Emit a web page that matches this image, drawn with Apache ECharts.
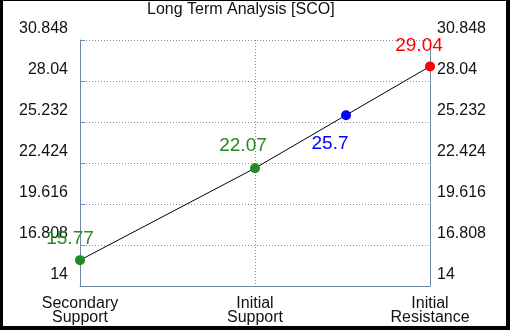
<!DOCTYPE html>
<html>
<head>
<meta charset="utf-8">
<script src="https://cdn.jsdelivr.net/npm/echarts@6/dist/echarts.min.js"></script>
<style>
	html, body { margin: 0; padding: 0; background: #000; width: 510px; height: 330px; overflow: hidden; }
	#chart { position: absolute; left: 3px; top: 1px; width: 503px; height: 325px; background: #fff; }
</style>
</head>
<body>
<div id="chart"></div>
<script>
var levelNames = ['Secondary\nSupport', 'Initial\nSupport', 'Initial\nResistance'];
var prices = [15.77, 22.07, 25.7, 29.04];
var priceSpots = [0, 1, 1.52, 2];
var yMin = 14, yMax = 30.848, yStep = 2.808;

var dotColors = ['#228b22', '#228b22', '#0000ff', '#ff0000'];
var labelShift = [[-10, -21], [-12, -22], [-16, 29], [-11, -21]];
var font = 'Liberation Sans, Arial, sans-serif';
var axisColor = '#7086aa';

window.onload = function() {
	var points = [];
	for (var i = 0; i < prices.length; i++) {
		points.push({
			value: [priceSpots[i], prices[i]],
			itemStyle: { color: dotColors[i] },
			label: { color: dotColors[i], offset: labelShift[i] }
		});
	}
	var fmt = function(v) { return String(parseFloat(v.toFixed(3))); };
	var myChart = echarts.init(document.getElementById('chart'));
	var option = {
		animation: false,
		title: {
			text: 'Long Term Analysis [SCO]',
			left: 144,
			top: 1,
			padding: 0,
			textStyle: { fontSize: 16, fontWeight: 'normal', color: '#111', fontFamily: font }
		},
		grid: { left: 77, right: 76, top: 39, bottom: 36 },
		xAxis: {
			type: 'value',
			min: 0,
			max: 2,
			interval: 1,
			axisLine: { lineStyle: { color: axisColor } },
			axisTick: { show: false },
			axisLabel: {
				margin: 11,
				fontSize: 16,
				lineHeight: 14,
				color: '#111',
				fontFamily: font,
				formatter: function(v) { return levelNames[v] || ''; }
			},
			splitLine: { show: true, lineStyle: { color: '#8294b4', type: [1, 2] } }
		},
		yAxis: [{
			type: 'value',
			position: 'left',
			min: yMin,
			max: yMax,
			interval: yStep,
			axisLine: { show: true, lineStyle: { color: axisColor } },
			axisTick: { show: true, inside: true, length: 5, lineStyle: { color: axisColor } },
			axisLabel: {
				margin: 12,
				fontSize: 16,
				color: '#111',
				fontFamily: font,
				verticalAlign: 'bottom',
				lineHeight: 22,
				formatter: fmt
			},
			splitLine: { show: true, lineStyle: { color: '#8294b4', type: [1, 2] } }
		}, {
			type: 'value',
			position: 'right',
			min: yMin,
			max: yMax,
			interval: yStep,
			axisLine: { show: true, lineStyle: { color: axisColor } },
			axisTick: { show: false },
			axisLabel: {
				margin: 7,
				fontSize: 16,
				color: '#111',
				fontFamily: font,
				verticalAlign: 'bottom',
				lineHeight: 22,
				formatter: fmt
			},
			splitLine: { show: false }
		}],
		series: [{
			type: 'line',
			data: points,
			symbol: 'circle',
			symbolSize: 10,
			lineStyle: { color: '#000', width: 1 },
			label: {
				show: true,
				position: 'inside',
				fontSize: 19,
				fontFamily: font,
				formatter: function(p) { return String(p.value[1]); }
			},
			z: 5
		}]
	};
	myChart.setOption(option);
};
</script>
</body>
</html>
